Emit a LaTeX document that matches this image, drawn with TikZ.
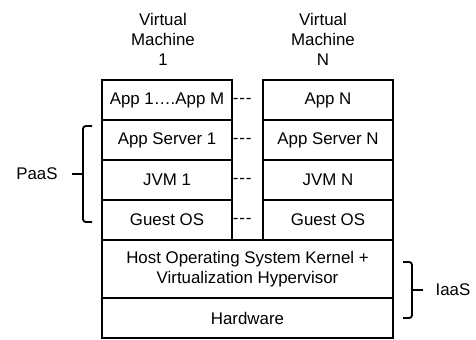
\documentclass[tikz,border=0pt]{standalone}
\usepackage{fontspec}
\setmainfont{Liberation Sans}
\begin{document}
\begin{tikzpicture}[font=\fontsize{12}{14.2}\selectfont]

        \useasboundingbox (0,0) rectangle (11.9,-8.475);

        \begin{scope}[every node/.style={rectangle,draw,line width=.9pt,minimum width=3.25cm,minimum height=1cm,inner sep=0pt}]
          \node (app1) at (4.175,-2.5) {App 1….App M};
          \node (srv1) at (4.175,-3.5) {App Server 1};
          \node (jvm1) at (4.175,-4.5) {JVM 1};
          \node (os1)  at (4.175,-5.5) {Guest OS};
          \node (appN) at (8.2,-2.5)   {App N};
          \node (srvN) at (8.2,-3.5)   {App Server N};
          \node (jvmN) at (8.2,-4.5)   {JVM N};
          \node (osN)  at (8.2,-5.5)   {Guest OS};
          \node[minimum width=7.275cm,minimum height=1.45cm,align=center] (host) at (6.1875,-6.725) {Host Operating System Kernel +\\Virtualization Hypervisor};
          \node[minimum width=7.275cm] (hw) at (6.1875,-7.95) {Hardware};
        \end{scope}

        \begin{scope}[every node/.style={anchor=mid west,inner xsep=0pt}]
          \node (dots1) at (app1.east) {-\kern.6pt-\kern.6pt-};
          \node (dots2) at (srv1.east) {-\kern.6pt-\kern.6pt-};
          \node (dots3) at (jvm1.east) {-\kern.6pt-\kern.6pt-};
          \node (dots4) at (os1.east)  {-\kern.6pt-\kern.6pt-};
        \end{scope}

        \begin{scope}[every node/.style={align=center,inner sep=0pt}]
          \node (vm1)  at (4.075,-0.975) {Virtual\\Machine\\1};
          \node (vmN)  at (8.075,-0.975) {Virtual\\Machine\\N};
          \node (paas) at (0.925,-4.35)  {PaaS};
          \node (iaas) at (11.325,-7.25) {IaaS};
        \end{scope}

        \begin{scope}[line width=1.3pt,rounded corners=2pt]
          \draw (2.3,-3.15) -- (2.075,-3.15) -- (2.075,-5.55) -- (2.3,-5.55);
          \draw (2.075,-4.35) -- (1.8,-4.35);
          \draw (10.075,-6.55) -- (10.3,-6.55) -- (10.3,-7.95) -- (10.075,-7.95);
          \draw (10.3,-7.25) -- (10.575,-7.25);
        \end{scope}

      \end{tikzpicture}
\end{document}
